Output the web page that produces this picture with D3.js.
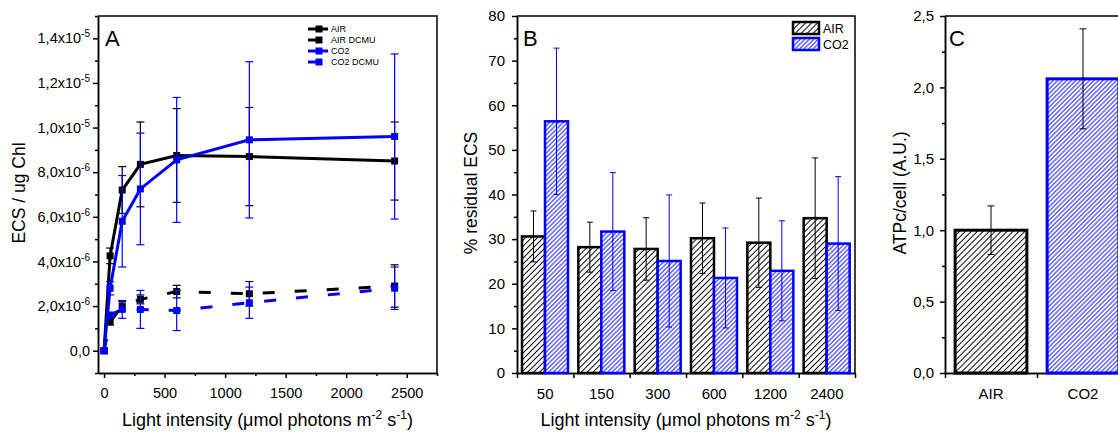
<!DOCTYPE html>
<html>
<head>
<meta charset="utf-8">
<script src="https://cdn.jsdelivr.net/npm/d3@7"></script>
<style>
  body { margin: 0; background: #fff; }
  svg { display: block; }
</style>
</head>
<body>
<svg id="chart" width="1118" height="432"></svg>
<script>
// ---- panel A: ECS vs light intensity ----
var lightA = [0, 50, 150, 300, 600, 1200, 2400];
var airA = [0, 4.25e-6, 7.2e-6, 8.35e-6, 8.75e-6, 8.7e-6, 8.5e-6];
var airErrA = [0, 0.35e-6, 1.05e-6, 1.9e-6, 2.1e-6, 2.2e-6, 1.75e-6];
var airDcmuA = [0, 1.3e-6, 2.0e-6, 2.3e-6, 2.65e-6, 2.55e-6, 2.9e-6];
var airDcmuErrA = [0, 0.15e-6, 0.2e-6, 0.2e-6, 0.28e-6, 0.55e-6, 0.95e-6];
var co2A = [0, 2.8e-6, 5.8e-6, 7.25e-6, 8.55e-6, 9.45e-6, 9.6e-6];
var co2ErrA = [0, 0.3e-6, 2.05e-6, 2.5e-6, 2.8e-6, 3.5e-6, 3.7e-6];
var co2DcmuA = [0, 1.6e-6, 1.85e-6, 1.85e-6, 1.8e-6, 2.15e-6, 2.8e-6];
var co2DcmuErrA = [0, 0.1e-6, 0.4e-6, 0.85e-6, 0.9e-6, 0.7e-6, 0.95e-6];
var xTicksA = [0, 500, 1000, 1500, 2000, 2500];
var xMinorA = [250, 750, 1250, 1750, 2250, 2750];
var yTicksA = [0, 2e-6, 4e-6, 6e-6, 8e-6, 1e-5, 1.2e-5, 1.4e-5];
var yMinorA = [-1e-6, 1e-6, 3e-6, 5e-6, 7e-6, 9e-6, 1.1e-5, 1.3e-5, 1.5e-5];

// ---- panel B: % residual ECS ----
var lightB = ["50", "150", "300", "600", "1200", "2400"];
var airB = [30.6, 28.2, 27.8, 30.2, 29.2, 34.7];
var airErrB = [5.7, 5.6, 7.0, 7.9, 10.0, 13.5];
var co2B = [56.4, 31.7, 25.1, 21.3, 22.9, 29.0];
var co2ErrB = [16.4, 13.2, 14.8, 11.2, 11.2, 15.0];
var yTicksB = [0, 10, 20, 30, 40, 50, 60, 70, 80];
var yMinorB = [5, 15, 25, 35, 45, 55, 65, 75];

// ---- panel C: ATP per cell ----
var groupsC = ["AIR", "CO2"];
var atpC = [1.0, 2.06];
var atpErrC = [0.17, 0.35];
var yTicksC = [0, 0.5, 1.0, 1.5, 2.0, 2.5];
var yMinorC = [0.25, 0.75, 1.25, 1.75, 2.25];

var FONT = '"Liberation Sans", Arial, sans-serif';
var BLUE = "#0000ff";
var svg = d3.select("#chart").attr("font-family", FONT);
var defs = svg.append("defs");

function hatch(id, color, gap, w) {
  var p = defs.append("pattern")
    .attr("id", id)
    .attr("patternUnits", "userSpaceOnUse")
    .attr("width", gap).attr("height", gap)
    .attr("patternTransform", "rotate(45)");
  p.append("rect").attr("width", gap).attr("height", gap).attr("fill", "#fff");
  p.append("line")
    .attr("x1", gap / 2).attr("y1", 0).attr("x2", gap / 2).attr("y2", gap)
    .attr("stroke", color).attr("stroke-width", w);
}
hatch("hatchBlack", "#000", 4.2, 1);
hatch("hatchBlue", BLUE, 3.2, 0.9);

function styleAxis(g, fs) {
  g.attr("font-family", FONT).attr("font-size", fs);
  g.selectAll(".domain, .tick line").attr("stroke", "#000").attr("stroke-width", 1.5);
  g.selectAll(".tick text").attr("fill", "#000");
}

function frame(x0, x1, y0, y1) {
  svg.append("path")
    .attr("d", "M" + x0 + "," + y0 + "H" + x1 + "V" + y1)
    .attr("fill", "none").attr("stroke", "#000").attr("stroke-width", 1.5);
}

function leftAxis(y, x0, majors, minors, fs, pad, fmt) {
  var gm = svg.append("g").attr("transform", "translate(" + x0 + ",0)")
    .call(d3.axisLeft(y).tickValues(minors).tickSize(3).tickSizeOuter(0).tickFormat(""));
  styleAxis(gm, fs);
  var g = svg.append("g").attr("transform", "translate(" + x0 + ",0)")
    .call(d3.axisLeft(y).tickValues(majors).tickSize(5).tickSizeOuter(0).tickPadding(pad).tickFormat(fmt));
  styleAxis(g, fs);
  return g;
}

function yTitle(x, text) {
  svg.append("text")
    .attr("transform", "translate(" + x + ",193) rotate(-90)")
    .attr("text-anchor", "middle").attr("font-size", 17.5).attr("fill", "#000")
    .text(text);
}

function xTitle(cx) {
  var t = svg.append("text")
    .attr("x", cx).attr("y", 426)
    .attr("text-anchor", "middle").attr("font-size", 18).attr("fill", "#000");
  t.append("tspan").text("Light intensity (\u03bcmol photons m");
  t.append("tspan").attr("dy", -7).attr("font-size", 12).text("-2");
  t.append("tspan").attr("dy", 7).text(" s");
  t.append("tspan").attr("dy", -7).attr("font-size", 12).text("-1");
  t.append("tspan").attr("dy", 7).text(")");
}

function panelLetter(x, s) {
  svg.append("text").attr("x", x).attr("y", 46)
    .attr("font-size", 22).attr("fill", "#000").text(s);
}

var comma = function(v) { return d3.format(".1f")(v).replace(".", ","); };

// ================= Panel A =================
var xA = d3.scaleLinear().domain([-50, 2750]).range([98, 437]);
var yA = d3.scaleLinear().domain([-1e-6, 1.5e-5]).range([373, 16]);

frame(98, 437, 16, 373);

var gyA = leftAxis(yA, 98, yTicksA, yMinorA, 14.5, 3, function() { return ""; });
gyA.selectAll(".tick text").each(function(d) {
  var t = d3.select(this);
  if (d === 0) { t.text("0,0"); return; }
  var e = Math.floor(Math.log10(Math.abs(d)) + 1e-9);
  t.text(comma(d / Math.pow(10, e)) + "x10");
  t.append("tspan").attr("dy", -6).attr("font-size", 10).text(e);
});

var gxmA = svg.append("g").attr("transform", "translate(0,373)")
  .call(d3.axisBottom(xA).tickValues(xMinorA).tickSize(3).tickSizeOuter(0).tickFormat(""));
styleAxis(gxmA, 14.5);
var gxA = svg.append("g").attr("transform", "translate(0,373)")
  .call(d3.axisBottom(xA).tickValues(xTicksA).tickSize(5).tickSizeOuter(0).tickPadding(10).tickFormat(d3.format("d")));
styleAxis(gxA, 14.5);

var seriesA = [
  { name: "AIR", y: airA, err: airErrA, color: "#000", dash: null },
  { name: "AIR DCMU", y: airDcmuA, err: airDcmuErrA, color: "#000", dash: "12,20" },
  { name: "CO2", y: co2A, err: co2ErrA, color: BLUE, dash: null },
  { name: "CO2 DCMU", y: co2DcmuA, err: co2DcmuErrA, color: BLUE, dash: "12,20" }
];

var plotA = svg.append("g");
seriesA.forEach(function(s) {
  var pts = lightA.map(function(x, i) { return { x: x, y: s.y[i], e: s.err[i] }; });
  var eg = plotA.append("g").attr("stroke", s.color).attr("stroke-width", 1.2);
  pts.forEach(function(p) {
    if (!p.e) return;
    var cx = xA(p.x), y1 = yA(p.y + p.e), y2 = yA(p.y - p.e);
    eg.append("line").attr("x1", cx).attr("x2", cx).attr("y1", y1).attr("y2", y2);
    eg.append("line").attr("x1", cx - 4).attr("x2", cx + 4).attr("y1", y1).attr("y2", y1);
    eg.append("line").attr("x1", cx - 4).attr("x2", cx + 4).attr("y1", y2).attr("y2", y2);
  });
  plotA.append("path")
    .datum(pts)
    .attr("fill", "none").attr("stroke", s.color).attr("stroke-width", 3)
    .attr("stroke-dasharray", s.dash)
    .attr("d", d3.line().x(function(p) { return xA(p.x); }).y(function(p) { return yA(p.y); }));
  plotA.selectAll(null).data(pts).enter().append("rect")
    .attr("x", function(p) { return xA(p.x) - 3.5; })
    .attr("y", function(p) { return yA(p.y) - 3.5; })
    .attr("width", 7).attr("height", 7).attr("fill", s.color);
});

// legend A
var legA = svg.append("g").attr("font-size", 9);
seriesA.forEach(function(s, i) {
  var cy = 29 + i * 11;
  legA.append("line").attr("x1", 308).attr("x2", 328).attr("y1", cy).attr("y2", cy)
    .attr("stroke", s.color).attr("stroke-width", 3)
    .attr("stroke-dasharray", s.dash ? "8,12" : null);
  legA.append("rect").attr("x", 315.5).attr("y", cy - 3.5).attr("width", 7).attr("height", 7).attr("fill", s.color);
  legA.append("text").attr("x", 331).attr("y", cy + 3.2).attr("fill", "#000").text(s.name);
});

panelLetter(105, "A");
yTitle(25, "ECS / ug Chl");
xTitle(267.5);

// ================= Panel B =================
var xB = d3.scaleBand().domain(lightB).range([517, 855]);
var xInB = d3.scaleBand().domain(["AIR", "CO2"]).range([5, 51]);
var yB = d3.scaleLinear().domain([0, 80]).range([373, 16]);

frame(517, 855, 16, 373);
leftAxis(yB, 517, yTicksB, yMinorB, 15, 7, d3.format("d"));

var gxB = svg.append("g").attr("transform", "translate(0,373)")
  .call(d3.axisBottom(xB).tickSize(0).tickSizeOuter(0).tickPadding(15));
styleAxis(gxB, 15);
var edgeB = d3.scaleLinear().domain([0, lightB.length]).range([517, 855]);
var gxtB = svg.append("g").attr("transform", "translate(0,373)")
  .call(d3.axisBottom(edgeB).tickValues(d3.range(lightB.length + 1)).tickSize(5).tickSizeOuter(0).tickFormat(""));
styleAxis(gxtB, 15);

var seriesB = [
  { key: "AIR", v: airB, err: airErrB, color: "#000", fill: "url(#hatchBlack)" },
  { key: "CO2", v: co2B, err: co2ErrB, color: BLUE, fill: "url(#hatchBlue)" }
];
var barsB = svg.append("g");
lightB.forEach(function(c, i) {
  seriesB.forEach(function(s) {
    barsB.append("rect")
      .attr("x", xB(c) + xInB(s.key))
      .attr("y", yB(s.v[i]))
      .attr("width", xInB.bandwidth())
      .attr("height", yB(0) - yB(s.v[i]))
      .attr("fill", s.fill).attr("stroke", s.color).attr("stroke-width", 2.5);
  });
});
lightB.forEach(function(c, i) {
  seriesB.forEach(function(s) {
    var cx = xB(c) + xInB(s.key) + xInB.bandwidth() / 2;
    var y1 = yB(s.v[i] + s.err[i]), y2 = yB(s.v[i] - s.err[i]);
    var eg = barsB.append("g").attr("stroke", s.color).attr("stroke-width", 1);
    eg.append("line").attr("x1", cx).attr("x2", cx).attr("y1", y1).attr("y2", y2);
    eg.append("line").attr("x1", cx - 3).attr("x2", cx + 3).attr("y1", y1).attr("y2", y1);
    eg.append("line").attr("x1", cx - 3).attr("x2", cx + 3).attr("y1", y2).attr("y2", y2);
  });
});

// legend B
seriesB.forEach(function(s, i) {
  var y0 = 22 + i * 16;
  svg.append("rect").attr("x", 793).attr("y", y0).attr("width", 26).attr("height", 12)
    .attr("fill", s.fill).attr("stroke", s.color).attr("stroke-width", 2.5);
  svg.append("text").attr("x", 823).attr("y", y0 + 11).attr("font-size", 12.5)
    .attr("fill", "#000").text(s.key);
});

panelLetter(523, "B");
yTitle(477, "% residual ECS");
xTitle(686);

// ================= Panel C =================
var xC = d3.scaleBand().domain(groupsC).range([945, 1129]).paddingInner(0.22).paddingOuter(0.11);
var yC = d3.scaleLinear().domain([0, 2.5]).range([373, 16]);

frame(945, 1129, 16, 373);
leftAxis(yC, 945, yTicksC, yMinorC, 15, 6, comma);

var gxC = svg.append("g").attr("transform", "translate(0,373)")
  .call(d3.axisBottom(xC).tickSize(0).tickSizeOuter(0).tickPadding(15));
styleAxis(gxC, 15);
var edgeC = d3.scaleLinear().domain([0, groupsC.length]).range([945, 1129]);
var gxtC = svg.append("g").attr("transform", "translate(0,373)")
  .call(d3.axisBottom(edgeC).tickValues(d3.range(groupsC.length + 1)).tickSize(5).tickSizeOuter(0).tickFormat(""));
styleAxis(gxtC, 15);

var colorsC = ["#000", BLUE];
var fillsC = ["url(#hatchBlack)", "url(#hatchBlue)"];
groupsC.forEach(function(g, i) {
  svg.append("rect")
    .attr("x", xC(g)).attr("y", yC(atpC[i]))
    .attr("width", xC.bandwidth()).attr("height", yC(0) - yC(atpC[i]))
    .attr("fill", fillsC[i]).attr("stroke", colorsC[i]).attr("stroke-width", 3);
});
groupsC.forEach(function(g, i) {
  var cx = xC(g) + xC.bandwidth() / 2;
  var y1 = yC(atpC[i] + atpErrC[i]), y2 = yC(atpC[i] - atpErrC[i]);
  var eg = svg.append("g").attr("stroke", "#000").attr("stroke-width", 1);
  eg.append("line").attr("x1", cx).attr("x2", cx).attr("y1", y1).attr("y2", y2);
  eg.append("line").attr("x1", cx - 3.5).attr("x2", cx + 3.5).attr("y1", y1).attr("y2", y1);
  eg.append("line").attr("x1", cx - 3.5).attr("x2", cx + 3.5).attr("y1", y2).attr("y2", y2);
});

panelLetter(949, "C");
yTitle(906, "ATPc/cell (A.U.)");
</script>
</body>
</html>
